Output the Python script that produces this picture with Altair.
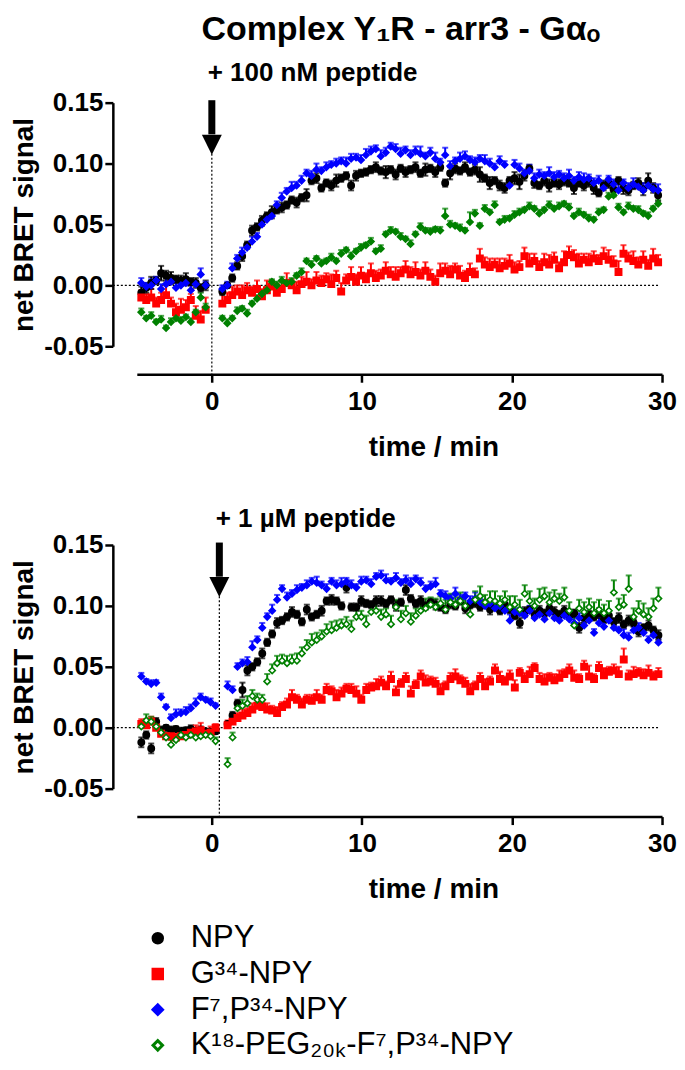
import pandas as pd
import altair as alt

# BRET kinetics, Y1R - arr3 - Galpha_o complex
# values are net BRET x 1000, read every 0.33 min (20 s)
STEP = 0.33
SERIES = ["NPY", "G34-NPY", "F7,P34-NPY", "K18-PEG20K-F7,P34-NPY"]
LABELS = ["NPY", "G³⁴-NPY", "F⁷,P³⁴-NPY", "K¹⁸-PEG₂₀ₖ-F⁷,P³⁴-NPY"]
COLORS = ["#000000", "#ff0000", "#0000ff", "#008000"]
SHAPES = ["circle", "square", "diamond", "diamond"]

# ---- top panel, + 100 nM peptide (injection at 0 min)
top_pre_start, top_post_start, top_inject = -4.7, 0.7, 0.0

top_npy_pre = [-6, -2, 2, 4, 10, 8, 6, 5, 4, 5, 3, 2, -2, 0]
top_npy_post = [
    -5, 0, 6, 16, 24, 33, 45, 48, 53, 57, 60, 62,
    64, 66, 70, 68, 72, 74, 86, 88, 80, 84, 82, 86,
    88, 90, 82, 90, 92, 93, 95, 97, 94, 93, 95, 91,
    96, 93, 95, 97, 92, 95, 96, 93, 97, 84, 92, 96,
    94, 97, 93, 95, 91, 88, 84, 86, 82, 80, 86, 88,
    85, 90, 96, 84, 82, 86, 82, 84, 83, 86, 84, 80,
    84, 82, 85, 80, 76, 82, 84, 79, 86, 80, 78, 82,
    84, 79, 86, 80, 74]
top_npy_err_pre = [5, 4, 5, 3, 6, 4, 5, 3, 4, 5, 3, 4, 3, 4]
top_npy_err_post = [
    3, 2, 3, 3, 4, 3, 4, 3, 4, 3, 5, 3,
    4, 3, 3, 4, 3, 5, 3, 4, 3, 3, 4, 5,
    3, 3, 4, 4, 3, 3, 3, 4, 3, 5, 3, 4,
    3, 4, 3, 4, 3, 5, 3, 4, 3, 3, 5, 4,
    3, 4, 3, 4, 6, 3, 5, 3, 4, 4, 3, 5,
    6, 4, 3, 4, 3, 4, 5, 3, 4, 4, 3, 5,
    3, 4, 4, 5, 3, 4, 4, 6, 3, 5, 4, 3,
    4, 5, 6, 4, 5]

top_g34_pre = [-10, -12, -10, -15, -12, -8, -15, -22, -20, -18, -12, -25, -28, -20]
top_g34_post = [
    -15, -12, -8, -5, -8, -4, -6, -3, -9, -4, -1, -6,
    -3, 2, 0, -4, 1, 3, 0, 4, 2, 5, 1, 6,
    -5, 4, 7, 3, 8, 5, 10, 6, 8, 12, 9, 7,
    10, 13, 9, 11, 8, 12, 7, 3, 10, 12, 9, 13,
    8, 6, 11, 9, 22, 17, 15, 17, 14, 16, 18, 13,
    15, 24, 18, 20, 15, 19, 17, 21, 14, 19, 25, 23,
    18, 21, 19, 22, 20, 24, 21, 18, 11, 26, 22, 20,
    17, 21, 16, 22, 19]
top_g34_err_pre = [6, 5, 7, 5, 6, 8, 5, 7, 9, 6, 5, 8, 7, 10]
top_g34_err_post = [
    8, 6, 7, 5, 8, 6, 5, 7, 6, 8, 5, 7,
    6, 8, 5, 7, 6, 8, 5, 7, 6, 5, 8, 6,
    7, 5, 8, 6, 7, 5, 8, 6, 5, 7, 6, 8,
    5, 7, 6, 8, 5, 7, 6, 5, 8, 6, 7, 5,
    8, 6, 7, 5, 8, 6, 7, 5, 8, 6, 7, 6,
    5, 7, 8, 6, 5, 7, 8, 6, 5, 9, 7, 6,
    8, 5, 7, 6, 5, 7, 8, 6, 9, 7, 5, 8,
    6, 7, 5, 8, 6]

top_f7_pre = [2, -1, 0, 4, -3, 1, 3, -2, 0, 2, -4, 1, 9, 0]
top_f7_post = [
    -3, 0, 14, 22, 27, 31, 36, 40, 50, 54, 57, 66,
    72, 77, 80, 82, 86, 92, 90, 95, 94, 97, 99, 100,
    102, 100, 104, 105, 103, 107, 110, 112, 106, 109, 114, 112,
    108, 111, 107, 110, 108, 106, 109, 104, 101, 107, 98, 102,
    104, 106, 103, 101, 104, 102, 100, 97, 102, 99, 82, 99,
    96, 92, 94, 88, 91, 90, 92, 89, 91, 88, 90, 86,
    89, 87, 88, 84, 86, 80, 87, 83, 78, 84, 80, 83,
    81, 78, 82, 79, 78]
top_f7_err_pre = [4, 3, 5, 3, 4, 6, 3, 4, 5, 3, 4, 3, 5, 3]
top_f7_err_post = [
    3, 3, 4, 3, 4, 3, 4, 3, 4, 3, 4, 3,
    4, 3, 5, 3, 4, 3, 4, 5, 3, 4, 3, 4,
    3, 5, 4, 3, 4, 5, 4, 3, 5, 4, 3, 4,
    5, 3, 4, 4, 6, 3, 4, 5, 3, 6, 4, 3,
    5, 4, 3, 4, 3, 5, 4, 3, 4, 3, 5, 4,
    4, 3, 5, 4, 4, 3, 5, 4, 3, 4, 5, 3,
    4, 5, 3, 4, 4, 5, 3, 4, 5, 3, 4, 5,
    4, 6, 3, 4, 5]

top_peg_pre = [-22, -27, -25, -30, -28, -35, -30, -27, -29, -26, -30, -22, -10, -18]
top_peg_post = [
    -27, -31, -27, -21, -19, -23, -15, -11, -7, -4, 3, 0,
    4, 2, 3, 8, 11, 20, 17, 22, 18, 20, 23, 20,
    26, 29, 24, 28, 31, 33, 36, 28, 30, 42, 45, 44,
    40, 38, 34, 42, 48, 45, 44, 46, 45, 57, 50, 49,
    47, 45, 52, 59, 49, 63, 60, 66, 52, 54, 55, 58,
    60, 62, 65, 63, 59, 62, 66, 63, 65, 67, 64, 57,
    60, 58, 55, 54, 60, 62, 73, 74, 64, 60, 65, 63,
    62, 59, 57, 63, 67]
top_peg_err_pre = [3, 2, 3, 2, 3, 2, 3, 2, 3, 2, 3, 2, 4, 3]
top_peg_err_post = [
    2, 3, 2, 3, 2, 3, 2, 3, 2, 3, 2, 3,
    3, 2, 3, 2, 3, 2, 3, 2, 3, 2, 3, 2,
    3, 2, 3, 2, 3, 2, 3, 2, 3, 2, 3, 2,
    3, 2, 3, 2, 3, 2, 3, 2, 3, 6, 3, 2,
    3, 2, 8, 3, 2, 3, 2, 3, 2, 3, 2, 3,
    3, 2, 3, 2, 3, 2, 3, 2, 3, 2, 3, 2,
    3, 2, 3, 2, 3, 2, 3, 2, 3, 2, 3, 2,
    3, 2, 3, 2, 3]

# ---- bottom panel, + 1 uM peptide (injection at 0.5 min)
bot_pre_start, bot_post_start, bot_inject = -4.7, 1.05, 0.5

bot_npy_pre = [-12, -6, -17, 5, -2, 0, -2, -1, -3, -2, -1, -3, -2, -3, -4, -3]
bot_npy_post = [
    3, 10, 20, 31, 47, 50, 54, 61, 70, 77, 86, 88,
    91, 95, 93, 87, 97, 91, 93, 96, 104, 105, 104, 100,
    115, 99, 99, 104, 102, 101, 104, 104, 102, 105, 100, 103,
    113, 106, 102, 104, 100, 103, 101, 99, 97, 102, 100, 104,
    98, 101, 103, 99, 102, 97, 100, 96, 101, 97, 92, 86,
    95, 97, 93, 96, 94, 98, 95, 93, 96, 92, 94, 82,
    90, 93, 91, 94, 89, 92, 87, 90, 85, 88, 86, 79,
    82, 84, 80, 76]
bot_npy_err_pre = [4, 3, 4, 3, 3, 2, 3, 2, 3, 2, 3, 2, 3, 2, 3, 2]
bot_npy_err_post = [
    2, 3, 3, 6, 4, 3, 3, 4, 3, 3, 4, 3,
    3, 4, 3, 3, 4, 3, 3, 4, 3, 4, 3, 3,
    4, 3, 3, 4, 3, 3, 4, 4, 3, 3, 4, 3,
    4, 3, 3, 4, 3, 3, 4, 3, 3, 4, 3, 3,
    4, 3, 4, 3, 3, 4, 3, 3, 4, 3, 3, 4,
    4, 3, 3, 4, 3, 3, 4, 3, 4, 3, 3, 4,
    4, 3, 3, 4, 3, 4, 3, 4, 3, 4, 3, 4,
    3, 4, 3, 4]

bot_g34_pre = [3, 2, 5, 0, -5, -7, -7, -8, -7, -6, -4, -3, -2, -5, -4, 0]
bot_g34_post = [
    2, 5, 8, 10, 12, 15, 18, 17, 15, 14, 12, 17,
    19, 25, 23, 19, 23, 22, 25, 23, 31, 30, 25, 28,
    32, 31, 28, 23, 31, 33, 34, 37, 34, 40, 29, 36,
    40, 28, 35, 42, 37, 38, 36, 30, 34, 40, 42, 39,
    36, 30, 34, 40, 34, 38, 47, 40, 38, 42, 33, 45,
    40, 44, 49, 40, 38, 41, 39, 41, 44, 47, 41, 40,
    50, 42, 40, 49, 43, 46, 47, 44, 56, 42, 44, 45,
    43, 45, 42, 44]
bot_g34_err_pre = [4, 5, 4, 6, 4, 3, 4, 3, 4, 3, 4, 5, 6, 4, 5, 3]
bot_g34_err_post = [
    4, 5, 4, 5, 4, 5, 6, 4, 5, 4, 5, 4,
    5, 6, 4, 5, 4, 5, 6, 4, 5, 4, 6, 5,
    4, 5, 6, 4, 5, 4, 6, 5, 4, 6, 5, 4,
    5, 6, 4, 5, 6, 4, 5, 6, 4, 5, 6, 4,
    5, 6, 4, 5, 6, 4, 5, 6, 4, 5, 6, 4,
    5, 6, 4, 5, 6, 4, 5, 6, 4, 5, 6, 4,
    5, 9, 4, 5, 6, 4, 5, 6, 9, 5, 6, 4,
    5, 6, 4, 5]

bot_f7_pre = [42, 38, 36, 37, 25, 17, 8, 11, 12, 13, 16, 20, 25, 23, 21, 18]
bot_f7_post = [
    34, 31, 50, 53, 54, 66, 72, 82, 91, 96, 105, 114,
    107, 110, 113, 115, 117, 120, 119, 117, 114, 120, 117, 118,
    120, 117, 115, 120, 121, 118, 124, 125, 121, 120, 123, 119,
    121, 118, 122, 119, 114, 116, 118, 110, 108, 106, 110, 105,
    108, 104, 106, 103, 100, 102, 98, 100, 96, 88, 95, 94,
    92, 96, 90, 93, 89, 94, 90, 88, 92, 89, 86, 90,
    84, 88, 78, 86, 83, 88, 82, 80, 76, 74, 80, 82,
    78, 72, 76, 70]
bot_f7_err_pre = [3, 2, 3, 2, 3, 2, 3, 4, 3, 4, 3, 4, 3, 2, 3, 2]
bot_f7_err_post = [
    4, 3, 3, 3, 4, 5, 3, 4, 3, 5, 4, 3,
    4, 3, 4, 3, 4, 3, 5, 3, 4, 3, 4, 5,
    3, 4, 3, 4, 3, 4, 3, 4, 5, 3, 4, 3,
    4, 5, 3, 4, 3, 4, 5, 3, 4, 3, 5, 4,
    3, 4, 5, 3, 4, 3, 4, 3, 4, 5, 3, 4,
    3, 4, 3, 5, 4, 3, 4, 3, 4, 3, 5, 4,
    3, 4, 3, 5, 4, 3, 4, 3, 5, 4, 3, 4,
    5, 3, 4, 3]

bot_peg_pre = [1, 6, 5, 1, -4, -8, -14, -10, -6, -8, -6, -8, -7, -6, -7, -11]
bot_peg_post = [
    -30, -8, 16, 18, 20, 26, 23, 23, 38, 47, 53, 55,
    53, 55, 55, 61, 66, 70, 72, 75, 79, 80, 82, 84,
    85, 81, 91, 91, 85, 95, 96, 91, 93, 85, 99, 89,
    94, 87, 92, 96, 98, 101, 99, 102, 97, 103, 101, 104,
    100, 93, 105, 108, 103, 105, 104, 102, 105, 99, 101, 97,
    110, 104, 100, 105, 108, 103, 106, 104, 107, 96, 84, 98,
    95, 99, 94, 97, 94, 96, 111, 99, 101, 114, 91, 96,
    93, 91, 98, 106]
bot_peg_err_pre = [4, 5, 4, 3, 4, 3, 4, 3, 4, 3, 4, 3, 4, 3, 4, 3]
bot_peg_err_post = [
    5, 4, 4, 5, 6, 5, 5, 4, 6, 5, 6, 5,
    6, 5, 6, 5, 6, 7, 6, 5, 6, 7, 6, 5,
    6, 7, 6, 5, 7, 6, 7, 6, 5, 7, 6, 7,
    6, 7, 6, 7, 8, 6, 7, 6, 8, 7, 6, 7,
    8, 6, 7, 8, 6, 7, 8, 6, 7, 9, 7, 8,
    7, 8, 6, 9, 7, 8, 7, 6, 8, 7, 9, 7,
    8, 7, 9, 8, 7, 8, 10, 7, 8, 11, 7, 8,
    9, 7, 8, 9]


def series_rows(name, pre_start, post_start, pre, post, pre_err, post_err):
    rows = []
    for start, vals, errs in ((pre_start, pre, pre_err), (post_start, post, post_err)):
        for i, (v, e) in enumerate(zip(vals, errs)):
            v, e = v / 1000, e / 1000
            # NPY shown with +/- SEM, the others with the upper bar only
            lo = v - e if name == "NPY" else v
            rows.append({"series": name, "t": round(start + STEP * i, 2),
                         "v": v, "lo": lo, "hi": v + e})
    return rows


top_rows = []
for name, args in zip(SERIES, [
        (top_npy_pre, top_npy_post, top_npy_err_pre, top_npy_err_post),
        (top_g34_pre, top_g34_post, top_g34_err_pre, top_g34_err_post),
        (top_f7_pre, top_f7_post, top_f7_err_pre, top_f7_err_post),
        (top_peg_pre, top_peg_post, top_peg_err_pre, top_peg_err_post)]):
    top_rows += series_rows(name, top_pre_start, top_post_start, *args)
top_df = pd.DataFrame(top_rows)

bot_rows = []
for name, args in zip(SERIES, [
        (bot_npy_pre, bot_npy_post, bot_npy_err_pre, bot_npy_err_post),
        (bot_g34_pre, bot_g34_post, bot_g34_err_pre, bot_g34_err_post),
        (bot_f7_pre, bot_f7_post, bot_f7_err_pre, bot_f7_err_post),
        (bot_peg_pre, bot_peg_post, bot_peg_err_pre, bot_peg_err_post)]):
    bot_rows += series_rows(name, bot_pre_start, bot_post_start, *args)
bot_df = pd.DataFrame(bot_rows)

FONT = "Liberation Sans"
W, H = 526, 244
X_OFF, Y_OFF = 28, 24

xscale = alt.Scale(domain=[-5, 30], nice=False)
yscale = alt.Scale(domain=[-0.05, 0.15], nice=False)
xaxis = alt.Axis(values=[0, 10, 20, 30], format="d", title="time / min", offset=X_OFF,
                 labelPadding=6, labelFlush=False, titlePadding=19, titleX=297,
                 titleAlign="center")
yaxis = alt.Axis(values=[-0.05, 0, 0.05, 0.1, 0.15], title="net BRET signal", offset=Y_OFF,
                 labelExpr="replace(format(datum.value, '.2f'), '\u2212', '-')",
                 labelFlush=False, titlePadding=5)


def X(field):
    return alt.X(field, type="quantitative", scale=xscale, axis=xaxis)


def Y(field):
    return alt.Y(field, type="quantitative", scale=yscale, axis=yaxis)


color_scale = alt.Scale(domain=SERIES, range=COLORS)
shape_scale = alt.Scale(domain=SERIES, range=SHAPES)
size_scale = alt.Scale(domain=SERIES, range=[40, 40, 56, 72])


def panel(df, inject_t, title, dx, offset, open_last):
    fills = COLORS[:3] + (["white"] if open_last else [COLORS[3]])
    base = alt.Chart(df)
    inj = alt.Chart(pd.DataFrame({"t": [inject_t], "top": [0.152], "neck": [0.124],
                                  "head": [0.1155], "tip": [0.108]}))
    zero = alt.Chart(pd.DataFrame({"zero": [0.0]})).mark_rule(
        color="black", strokeWidth=1.2, strokeDash=[2, 2]
    ).encode(y=Y("zero"), x=alt.value(-Y_OFF), x2=alt.value(W - 4))
    drop = inj.mark_rule(color="black", strokeWidth=1.2, strokeDash=[2, 2]).encode(
        x=X("t"), y=Y("tip"), y2=alt.value(H + X_OFF))
    shaft = inj.mark_rule(color="black", strokeWidth=7).encode(
        x=X("t"), y=Y("top"), y2=alt.Y2("neck"))
    head = inj.mark_point(shape="M-1,-1L1,-1L0,1Z", filled=True, color="black",
                          opacity=1, size=400).encode(x=X("t"), y=Y("head"))
    col = alt.Color("series:N", scale=color_scale, legend=None)
    bars = base.mark_rule(strokeWidth=2).encode(x=X("t"), y=Y("lo"), y2=alt.Y2("hi"), color=col)
    caps = base.mark_tick(orient="horizontal", size=6, thickness=2).encode(
        x=X("t"), y=Y("hi"), color=col)
    caps_lo = base.transform_filter(alt.datum.series == "NPY").mark_tick(
        orient="horizontal", size=6, thickness=2).encode(x=X("t"), y=Y("lo"), color=col)
    pts = base.mark_point(opacity=1, strokeWidth=1.6).encode(
        x=X("t"), y=Y("v"),
        shape=alt.Shape("series:N", scale=shape_scale, legend=None),
        fill=alt.Fill("series:N", scale=alt.Scale(domain=SERIES, range=fills), legend=None),
        stroke=alt.Stroke("series:N", scale=color_scale, legend=None),
        size=alt.Size("series:N", scale=size_scale, legend=None),
    )
    return alt.layer(zero, drop, shaft, head, bars, caps, caps_lo, pts).properties(
        width=W, height=H,
        title=alt.TitleParams(title, anchor="start", frame="group", dx=dx, offset=offset,
                              fontSize=26),
    )


top = panel(top_df, top_inject, "+ 100 nM peptide", 71, 4, False)
bottom = panel(bot_df, bot_inject, "+ 1 µM peptide", 79, 0, True)

legend_df = pd.DataFrame({"series": SERIES, "label": LABELS, "row": [0, 1, 2, 3]})
ly = alt.Y("row:O", axis=None, scale=alt.Scale(paddingInner=0, paddingOuter=0))
leg_pts = alt.Chart(legend_df).mark_point(opacity=1, strokeWidth=3).encode(
    x=alt.value(21), y=ly,
    shape=alt.Shape("series:N", scale=shape_scale, legend=None),
    fill=alt.Fill("series:N", scale=alt.Scale(domain=SERIES, range=COLORS[:3] + ["white"]),
                  legend=None),
    stroke=alt.Stroke("series:N", scale=color_scale, legend=None),
    size=alt.Size("series:N", scale=alt.Scale(domain=SERIES, range=[90, 90, 120, 110]),
                  legend=None),
)
leg_txt = alt.Chart(legend_df).mark_text(align="left", baseline="middle", font=FONT,
                                         fontSize=31, color="black").encode(
    x=alt.value(54), y=ly, text="label:N")
legend = alt.layer(leg_pts, leg_txt).properties(width=W, height=143)

independent = dict(shape="independent", fill="independent", stroke="independent",
                   size="independent", color="independent")
panels = alt.vconcat(top, bottom, spacing=45).resolve_scale(**independent)

chart = alt.vconcat(panels, legend, spacing=17).resolve_scale(**independent).properties(
    title=alt.TitleParams("Complex Y₁R - arr3 - Gαₒ", anchor="start", dx=191, offset=13,
                          fontSize=34),
    padding={"top": 4, "left": 2, "right": 0, "bottom": 0},
).configure_view(stroke=None).configure_axis(
    grid=False, domainColor="black", domainWidth=2.5, tickColor="black", tickWidth=2.5,
    tickSize=8, labelFont=FONT, labelFontSize=26, labelFontWeight="bold", labelColor="black",
    titleFont=FONT, titleFontSize=28, titleFontWeight="bold", titleColor="black",
).configure_title(font=FONT, fontWeight="bold", color="black")

chart.save("out.html", embed_options={"renderer": "svg", "actions": False})
